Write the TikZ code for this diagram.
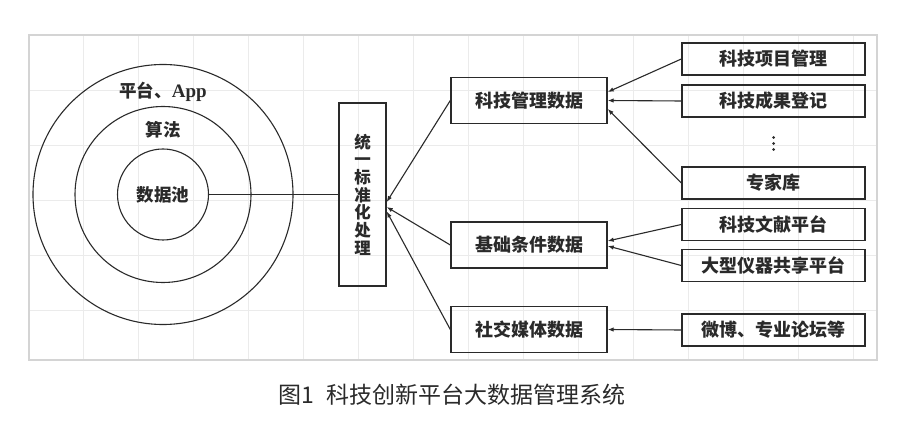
\documentclass[tikz,border=0pt]{standalone}
\usepackage{fontspec}
\setmainfont{Liberation Serif}
\newfontfamily\cjk{Noto Sans CJK SC}
\newfontfamily\lser{Liberation Serif}
\usetikzlibrary{arrows.meta,calc}
\definecolor{inkc}{HTML}{2A2A2A}
\definecolor{gridc}{HTML}{EBEBEB}
\definecolor{framec}{HTML}{D4D4D4}
\begin{document}
\begin{tikzpicture}[x=1pt,y=-1pt,
  lbl/.style={font=\cjk\bfseries\fontsize{17.5}{20}\selectfont, text=inkc, inner sep=0pt},
  boxlbl/.style={font=\cjk\bfseries\fontsize{18}{20}\selectfont, text=inkc},
  ring/.style={circle, draw=inkc, line width=1.1pt, inner sep=0pt},
  midbox/.style={draw=inkc, line width=1.4pt, minimum width=156pt, minimum height=46pt, inner sep=0pt, boxlbl},
  srcbox/.style={draw=inkc, line width=1.4pt, minimum width=183pt, minimum height=32pt, inner sep=0pt, boxlbl},
  dotmark/.style={circle, fill=inkc, minimum size=3pt, inner sep=0pt},
  arr/.style={-{Latex[length=6pt,width=4.5pt]}, line width=1.1pt, draw=inkc},
  plain/.style={line width=1.1pt, draw=inkc},
  gridl/.style={draw=gridc, line width=0.8pt},
  framel/.style={draw=framec, line width=1.3pt}]
\useasboundingbox (0,0) rectangle (900,435);
\fill[white] (0,0) rectangle (900,435);
% grid and frame
\foreach \x in {83,138,...,853} \draw[gridl] (\x,35) -- (\x,360);
\foreach \y in {90,145,...,310} \draw[gridl] (29,\y) -- (877,\y);
\draw[framel] (29,35) rectangle (877,360);
% circles
\coordinate (c) at (163,194.5);
\node[ring, minimum size=260pt] (outer) at (c) {};
\node[ring, minimum size=176pt] (mid) at (c) {};
\node[ring, minimum size=91pt, lbl] (pool) at (c) {数据池};
\node[lbl] (app) at (163,92) {平台、{\lser\bfseries\fontsize{19}{20}\selectfont App}};
\node[lbl] (alg) at (163,130) {算法};
% standardisation box
\node[draw=inkc, line width=1.4pt, minimum width=47pt, minimum height=183pt, inner sep=0pt,
      align=center, font=\cjk\bfseries\fontsize{16.5}{17.7}\selectfont, text=inkc] (std) at (362.5,194.5)
      {统\\一\\标\\准\\化\\处\\理};
% middle boxes
\node[midbox] (mg) at (529,100.5) {科技管理数据};
\node[midbox] (jc) at (529,245) {基础条件数据};
\node[midbox] (sj) at (529,329.5) {社交媒体数据};
% source boxes
\node[srcbox] (xm) at (773.5,59) {科技项目管理};
\node[srcbox] (cg) at (773.5,101) {科技成果登记};
\node[dotmark] (d1) at (773.5,137.5) {};
\node[dotmark] (d2) at (773.5,143.5) {};
\node[dotmark] (d3) at (773.5,149.5) {};
\node[srcbox] (zj) at (773.5,183) {专家库};
\node[srcbox] (wx) at (773.5,224.5) {科技文献平台};
\node[srcbox] (yq) at (773.5,265.5) {大型仪器共享平台};
\node[srcbox] (wb) at (773.5,330) {微博、专业论坛等};
% connectors
\draw[plain] (pool.east) -- (std.west |- pool.east);
\draw[arr] (mg.west) -- ($(std.east)+(0,7.5)$);
\draw[arr] (jc.west) -- ($(std.east)+(0,12.5)$);
\draw[arr] (sj.west) -- ($(std.east)+(0,17)$);
\draw[arr] (xm.west) -- ($(mg.east)+(0,-8.5)$);
\draw[arr] (cg.west) -- (mg.east);
\draw[arr] (zj.west) -- ($(mg.east)+(0,8.5)$);
\draw[arr] (wx.west) -- ($(jc.east)+(0,-4)$);
\draw[arr] (yq.west) -- ($(jc.east)+(0,1)$);
\draw[arr] (wb.west) -- (sj.east -| jc.east) ;
% caption
\node[font=\cjk\fontsize{23}{26}\selectfont, text=inkc, inner sep=0pt] (cap) at (452,395)
  {图1\hspace{12pt}科技创新平台大数据管理系统};
\end{tikzpicture}
\end{document}
